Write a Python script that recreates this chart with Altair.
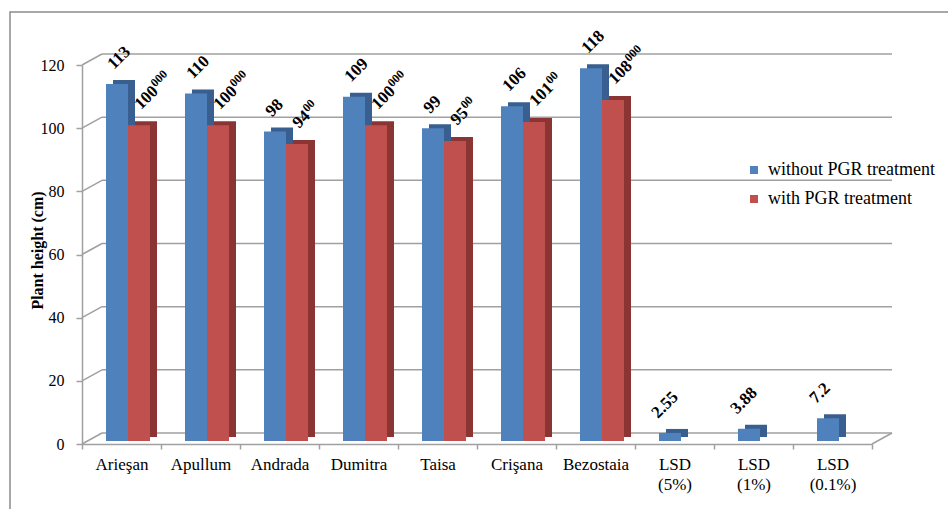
import altair as alt
import pandas as pd

# ---------------- data ----------------
categories = ["Arieşan", "Apullum", "Andrada", "Dumitra", "Taisa", "Crişana",
              "Bezostaia", "LSD (5%)", "LSD (1%)", "LSD (0.1%)"]
without_pgr = [113, 110, 98, 109, 99, 106, 118, 2.55, 3.88, 7.2]
with_pgr = [100, 100, 94, 100, 95, 101, 108, None, None, None]
with_sig = ["000", "000", "00", "000", "00", "00", "000", None, None, None]
series_names = ["without PGR treatment", "with PGR treatment"]
y_ticks = [0, 20, 40, 60, 80, 100, 120]

# ---------------- styling ----------------
FONT = "'Liberation Serif', 'Times New Roman', Times, serif"
BLUE, BLUE_DARK = "#4f81bd", "#385f8f"
RED, RED_DARK = "#c0504d", "#8a3533"
GRID = "#a0a0a0"
W, H = 790, 379
DEPTH_X, DEPTH_Y = 20, -11
BAR_W = 22
SIDE_X, SIDE_Y = 7, -4
LIFT = -3
BLUE_POS, RED_POS = -4.5, 17.5

blue_df = pd.DataFrame({
    "cat": categories,
    "value": without_pgr,
    "series": series_names[0],
    "label": [f"{v:g}" for v in without_pgr],
    "lsd": [c.startswith("LSD") for c in categories],
})
red_rows = [(c, v, s) for c, v, s in zip(categories, with_pgr, with_sig) if v is not None]
red_df = pd.DataFrame({
    "cat": [r[0] for r in red_rows],
    "value": [r[1] for r in red_rows],
    "series": series_names[1],
    "label": [f"{r[1]:g}" for r in red_rows],
    "sig": [r[2] for r in red_rows],
})
grid_df = pd.DataFrame({"value": y_ticks})
one_df = pd.DataFrame({"a": [0]})

x_enc = alt.X(
    "cat:N", sort=categories,
    scale=alt.Scale(paddingInner=0, paddingOuter=0),
    axis=alt.Axis(title=None, labelAngle=0, labelFont=FONT, labelFontSize=17,
                  labelColor="black", labelPadding=7,
                  labelExpr="split(datum.label, ' ')", labelLineHeight=20,
                  tickBand="extent", tickSize=5, tickColor=GRID, tickWidth=1.5,
                  domainColor=GRID, domainWidth=1.5),
)


def y_enc():
    return alt.Y(
        "value:Q",
        scale=alt.Scale(domain=[0, 120], nice=False, zero=True),
        axis=alt.Axis(title="Plant height (cm)", values=y_ticks, grid=False,
                      labelFont=FONT, labelFontSize=16, labelColor="black",
                      labelPadding=12, tickSize=6, tickColor=GRID, tickWidth=1.5,
                      domainColor=GRID, domainWidth=1.5,
                      titleFont=FONT, titleFontSize=16, titleFontWeight="bold",
                      titleColor="black", titleAngle=270, titleX=-45, titleY=185,
                      titleAlign="center", titleBaseline="middle"),
    )


color_enc = alt.Color(
    "series:N",
    scale=alt.Scale(domain=series_names, range=[BLUE, RED]),
    legend=alt.Legend(orient="none", legendX=663, legendY=96, title=None,
                      symbolType="square", symbolSize=64, symbolStrokeWidth=0,
                      labelFont=FONT, labelFontSize=18, labelColor="black",
                      labelLimit=400,
                      labelOffset=5, rowPadding=11, padding=0),
)

frame = alt.Chart(one_df).mark_rect(fillOpacity=0, stroke="#8c8c8c", strokeWidth=1.5).encode(
    x=alt.value(-72), x2=alt.value(900), y=alt.value(-53), y2=alt.value(480))

back_grid = alt.Chart(grid_df).mark_rule(color=GRID, strokeWidth=1.5, yOffset=DEPTH_Y).encode(
    x=alt.value(DEPTH_X), x2=alt.value(W + DEPTH_X), y=y_enc())

left_diag = alt.Chart(grid_df).mark_rule(color=GRID, strokeWidth=1.5, y2Offset=DEPTH_Y).encode(
    x=alt.value(0), x2=alt.value(DEPTH_X), y=y_enc(), y2="value:Q")

right_diag = alt.Chart(grid_df).transform_filter("datum.value == 0").mark_rule(
    color=GRID, strokeWidth=1.5, y2Offset=DEPTH_Y).encode(
    x=alt.value(W), x2=alt.value(W + DEPTH_X), y=y_enc(), y2="value:Q")

blue_side = alt.Chart(blue_df).mark_bar(
    size=BAR_W, color=BLUE_DARK, xOffset=BLUE_POS + SIDE_X,
    yOffset=LIFT + SIDE_Y, y2Offset=LIFT + SIDE_Y).encode(x=x_enc, y=y_enc())
blue_front = alt.Chart(blue_df).mark_bar(
    size=BAR_W, xOffset=BLUE_POS, yOffset=LIFT, y2Offset=LIFT).encode(
    x=x_enc, y=y_enc(), color=color_enc)
red_side = alt.Chart(red_df).mark_bar(
    size=BAR_W, color=RED_DARK, xOffset=RED_POS + SIDE_X,
    yOffset=LIFT + SIDE_Y, y2Offset=LIFT + SIDE_Y).encode(x=x_enc, y=y_enc())
red_front = alt.Chart(red_df).mark_bar(
    size=BAR_W, xOffset=RED_POS, yOffset=LIFT, y2Offset=LIFT).encode(
    x=x_enc, y=y_enc(), color=color_enc)

lab_style = dict(angle=315, align="left", baseline="alphabetic", font=FONT,
                 fontSize=17, fontWeight="bold", color="black")

blue_labels = alt.Chart(blue_df).transform_filter("!datum.lsd").mark_text(
    xOffset=BLUE_POS - 3, yOffset=LIFT - 14, **lab_style).encode(
    x=x_enc, y=y_enc(), text="label:N")
lsd_labels = alt.Chart(blue_df).transform_filter("datum.lsd").mark_text(
    xOffset=BLUE_POS - 12, yOffset=LIFT - 14, **lab_style).encode(
    x=x_enc, y=y_enc(), text="label:N")
red_labels = alt.Chart(red_df).mark_text(
    xOffset=RED_POS + 2, yOffset=LIFT - 15, **lab_style).encode(
    x=x_enc, y=y_enc(), text="label:N")

sup_style = dict(angle=315, align="left", baseline="alphabetic", font=FONT,
                 fontSize=12, fontWeight="bold", color="black")
red_sup3 = alt.Chart(red_df).transform_filter("length(datum.label) == 3").mark_text(
    xOffset=RED_POS + 2, yOffset=LIFT - 15, dx=26, dy=-6, **sup_style).encode(
    x=x_enc, y=y_enc(), text="sig:N")
red_sup2 = alt.Chart(red_df).transform_filter("length(datum.label) == 2").mark_text(
    xOffset=RED_POS + 2, yOffset=LIFT - 15, dx=17.5, dy=-6, **sup_style).encode(
    x=x_enc, y=y_enc(), text="sig:N")

chart = alt.layer(
    frame, back_grid, left_diag, right_diag,
    blue_side, blue_front, red_side, red_front,
    blue_labels, lsd_labels, red_labels, red_sup3, red_sup2,
).properties(
    width=W, height=H,
    autosize=alt.AutoSizeParams(type="none"),
    padding={"left": 82, "top": 65, "right": 76, "bottom": 65},
    background="white",
).configure_view(stroke=None)

chart.save("out.html", embed_options={"renderer": "svg", "actions": False})
